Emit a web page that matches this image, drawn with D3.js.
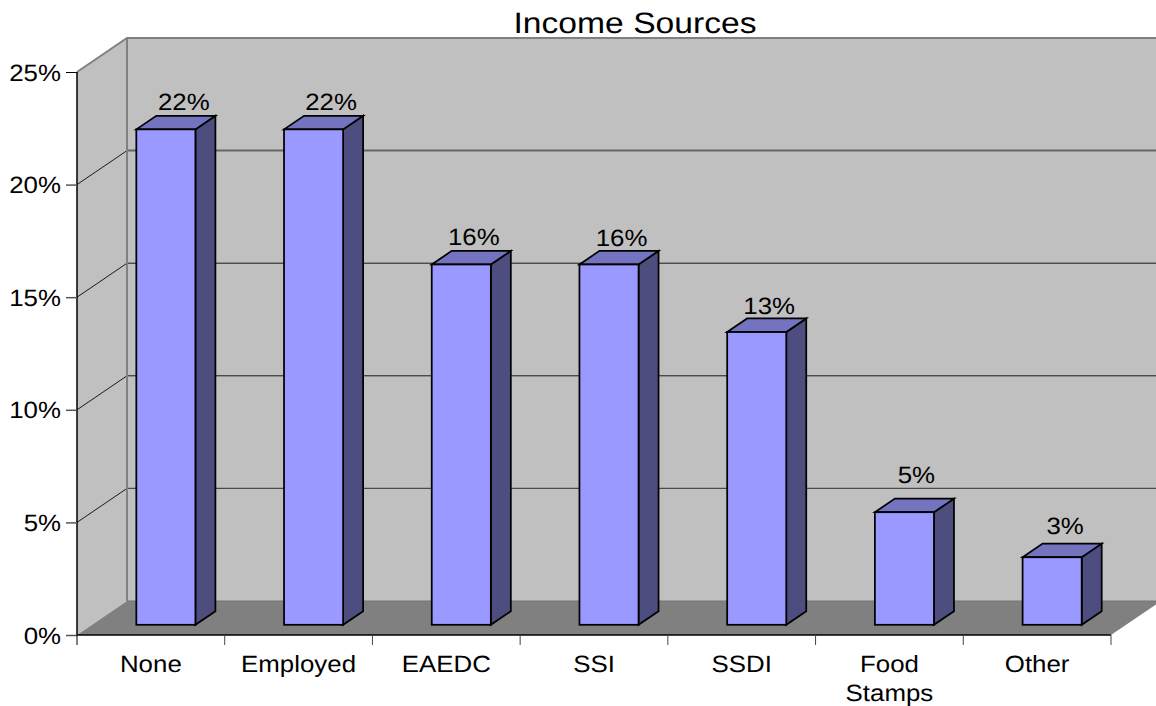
<!DOCTYPE html>
<html>
<head>
<meta charset="utf-8">
<title>Income Sources</title>
<script src="https://cdn.jsdelivr.net/npm/d3@7"></script>
<style>
  html, body { margin: 0; padding: 0; background: #fff; overflow: hidden; }
  svg { display: block; }
  text { font-family: "Liberation Sans", Arial, sans-serif; fill: #000; text-rendering: geometricPrecision; }
</style>
</head>
<body>
<svg id="chart" width="1156" height="706"></svg>
<script>
const titleText = "Income Sources";
const categories = ["None", "Employed", "EAEDC", "SSI", "SSDI", "Food Stamps", "Other"];
const shares = [22, 22, 16, 16, 13, 5, 3];
const yTicks = [0, 5, 10, 15, 20, 25];

const svg = d3.select("#chart");

// Plot box: front-left corner of the floor and the depth offset of the back wall.
const plotLeft = 77, plotRight = 1111, plotTop = 72, plotBottom = 635;
const depthX = 50, depthY = -34;

const x = d3.scaleBand().domain(categories).range([plotLeft, plotRight]).paddingInner(0).paddingOuter(0);
const y = d3.scaleLinear().domain([0, 25]).range([plotBottom, plotTop]);

const pts = a => a.map(p => p.join(",")).join(" ");

// Stretched text, since the chart is wider than its natural proportions.
const fontSize = 23.5, stretch = 1.1;
function label(sel, px, py, str, anchor, size = fontSize, sx = stretch) {
  return sel.append("text")
    .attr("transform", `translate(${px},${py}) scale(${sx},1)`)
    .attr("text-anchor", anchor)
    .attr("font-size", size)
    .text(str);
}

// Back wall, running off the right of the page.
svg.append("polygon")
  .attr("points", pts([[plotLeft + depthX, plotTop + depthY], [1156, plotTop + depthY], [1156, plotBottom + depthY], [plotLeft + depthX, plotBottom + depthY]]))
  .attr("fill", "#c0c0c0");

// Left wall.
svg.append("polygon")
  .attr("points", pts([[plotLeft, plotTop], [plotLeft + depthX, plotTop + depthY], [plotLeft + depthX, plotBottom + depthY], [plotLeft, plotBottom]]))
  .attr("fill", "#c0c0c0");

// Floor.
svg.append("polygon")
  .attr("points", pts([[plotLeft, plotBottom], [plotRight, plotBottom], [plotRight + depthX, plotBottom + depthY], [plotLeft + depthX, plotBottom + depthY]]))
  .attr("fill", "#808080");

// Wall edges.
svg.append("polyline")
  .attr("points", pts([[plotLeft, plotTop], [plotLeft + depthX, plotTop + depthY], [1156, plotTop + depthY]]))
  .attr("fill", "none").attr("stroke", "#808080").attr("stroke-width", 2);
svg.append("line")
  .attr("x1", plotLeft + depthX).attr("x2", 1156)
  .attr("y1", plotBottom + depthY).attr("y2", plotBottom + depthY)
  .attr("stroke", "#757575").attr("stroke-width", 1);

// Gridlines: a thin diagonal on the left wall, then a run across the back wall.
const gridStyle = t => t === 20 ? ["#666666", 2] : t === 5 ? ["#4a4a4a", 1.2] : ["#1a1a1a", 1];
yTicks.filter(t => t > 0 && t < 25).forEach(t => {
  const [colour, width] = gridStyle(t);
  svg.append("line")
    .attr("x1", plotLeft).attr("y1", y(t))
    .attr("x2", plotLeft + depthX).attr("y2", y(t) + depthY)
    .attr("stroke", "#1a1a1a").attr("stroke-width", 1);
  svg.append("line")
    .attr("x1", plotLeft + depthX).attr("y1", y(t) + depthY)
    .attr("x2", 1156).attr("y2", y(t) + depthY)
    .attr("stroke", colour).attr("stroke-width", width);
});

// Back-wall corner edge, over the gridlines.
svg.append("line")
  .attr("x1", plotLeft + depthX).attr("x2", plotLeft + depthX)
  .attr("y1", plotTop + depthY).attr("y2", plotBottom + depthY)
  .attr("stroke", "#808080").attr("stroke-width", 2);

// Y axis.
const yAxis = svg.append("g")
  .attr("transform", `translate(${plotLeft},0)`)
  .call(d3.axisLeft(y).tickValues(yTicks).tickSize(11).tickFormat(d => d + "%"));
yAxis.select(".domain").attr("stroke", "#000").attr("stroke-width", 1.5)
  .attr("d", `M0,${plotTop}V${plotBottom}`);
yAxis.selectAll(".tick line")
  .attr("stroke", d => d === 25 ? "#000" : "#555")
  .attr("stroke-width", d => d === 25 ? 1 : 1.5);
yAxis.attr("font-family", null).attr("font-size", null);
yAxis.selectAll(".tick text")
  .attr("font-size", fontSize)
  .attr("x", 0).attr("dy", 0)
  .attr("transform", `translate(-16,8) scale(${stretch},1)`)
  .attr("text-anchor", "end")
  .style("fill", "#000");

// X axis line with ticks on the category boundaries.
svg.append("line")
  .attr("x1", plotLeft).attr("x2", plotRight).attr("y1", plotBottom).attr("y2", plotBottom)
  .attr("stroke", "#000").attr("stroke-width", 1.5);
[...categories.map(c => x(c)), plotRight].forEach((px, i) => {
  svg.append("line")
    .attr("x1", px).attr("x2", px).attr("y1", plotBottom).attr("y2", plotBottom + 10)
    .attr("stroke", i === 0 ? "#000" : "#444").attr("stroke-width", 1);
});

// Category names, with the long one wrapped on two lines.
categories.forEach(c => {
  const cx = x(c) + x.bandwidth() / 2;
  c.split(" ").forEach((word, i) => label(svg, cx, 672 + i * 28.5, word, "middle"));
});

// Bars sit 30% of the way into the floor and take 40% of its depth.
const barW = x.bandwidth() * 0.4;
const gapX = x.bandwidth() * 0.3;
const offX = depthX * 0.3, offY = depthY * 0.3;
const dX = depthX * 0.4, dY = depthY * 0.4;

// Hand-placed data label offsets from the centre of each bar's top edge.
const labelDx = [18, 17.5, 12.5, 12.5, 12.5, 12, 13];
const labelDy = [-19.5, -19.5, -19.5, -18.5, -18.5, -29, -23];

const bars = svg.selectAll("g.bar").data(categories).join("g").attr("class", "bar");
bars.each(function (c, i) {
  const g = d3.select(this);
  const x0 = x(c) + gapX + offX, x1 = x0 + barW;
  const yB = plotBottom + offY, yT = y(shares[i]) + offY;
  const common = s => s.attr("stroke", "#000").attr("stroke-width", 1.75).attr("stroke-linejoin", "miter");
  g.append("polygon")
    .attr("points", pts([[x1, yT], [x1 + dX, yT + dY], [x1 + dX, yB + dY], [x1, yB]]))
    .attr("fill", "#4d4d80").call(common);
  g.append("polygon")
    .attr("points", pts([[x0, yT], [x0 + dX, yT + dY], [x1 + dX, yT + dY], [x1, yT]]))
    .attr("fill", "#7373bf").call(common);
  g.append("rect")
    .attr("x", x0).attr("y", yT).attr("width", barW).attr("height", yB - yT)
    .attr("fill", "#9999ff").call(common);
  label(g, (x0 + x1) / 2 + labelDx[i], yT + labelDy[i], shares[i] + "%", "middle");
});

// Title.
label(svg, 635, 33, titleText, "middle", 29.5, 1.14);
</script>
</body>
</html>
